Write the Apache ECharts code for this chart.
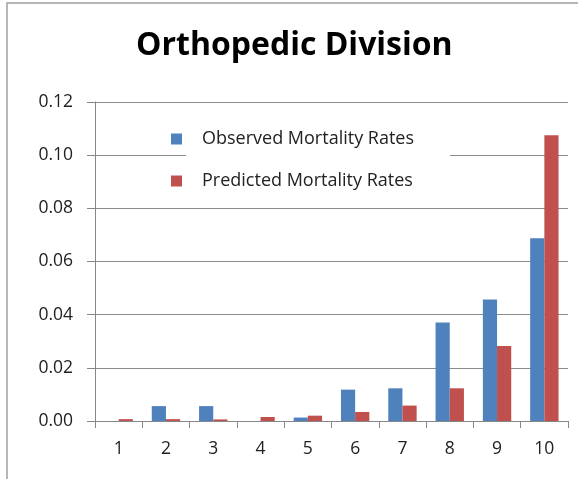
<!DOCTYPE html>
<html>
<head>
<meta charset="utf-8">
<script src="https://cdn.jsdelivr.net/npm/echarts@6/dist/echarts.min.js"></script>
<style>
  html, body { margin: 0; padding: 0; background: #fff; }
  #chart { width: 578px; height: 479px; }
</style>
</head>
<body>
<div id="chart"></div>
<script>
// deciles 1..10
const categories = ["1", "2", "3", "4", "5", "6", "7", "8", "9", "10"];
const observed = [0, 0.0056, 0.0056, 0, 0.0013, 0.0118, 0.0123, 0.0371, 0.0457, 0.0687];
const predicted = [0.0007, 0.0007, 0.0006, 0.0015, 0.002, 0.0034, 0.0058, 0.0123, 0.0282, 0.1075];

const font = "'Open Sans', sans-serif";
const chart = echarts.init(document.getElementById("chart"));

chart.setOption({
  animation: false,
  title: {
    text: "Orthopedic Division",
    left: 131,
    top: 25,
    textStyle: { fontFamily: font, fontSize: 32, fontWeight: "bold", color: "#000" },
  },
  legend: {
    orient: "vertical",
    left: 166,
    top: 125,
    itemWidth: 11,
    itemHeight: 11,
    itemGap: 24,
    icon: "rect",
    z: 10,
    textStyle: { fontFamily: font, fontSize: 18, color: "#222", padding: [0, 0, 0, 15] },
  },
  graphic: [
    {
      // white box behind the legend, hides part of the grid line
      type: "rect",
      z: 5,
      shape: { x: 186, y: 122, width: 264, height: 66 },
      style: { fill: "#fff" },
    },
    {
      type: "polyline",
      shape: { points: [[7, 479], [7, 3], [578, 3]] },
      style: { stroke: "#a0a0a0", lineWidth: 1.5, fill: null },
    },
  ],
  grid: { left: 95, right: 10, top: 102, bottom: 58 },
  xAxis: {
    type: "category",
    data: categories,
    axisLine: { lineStyle: { color: "#868686" } },
    axisTick: { show: true, length: 7, lineStyle: { color: "#868686" } },
    axisLabel: { fontFamily: font, fontSize: 17.5, color: "#222", margin: 19 },
  },
  yAxis: {
    type: "value",
    min: 0,
    max: 0.12,
    interval: 0.02,
    axisLine: { show: true, lineStyle: { color: "#868686" } },
    axisTick: { show: true, length: 8, lineStyle: { color: "#868686" } },
    splitLine: { lineStyle: { color: "#8c8c8c" } },
    axisLabel: {
      fontFamily: font,
      fontSize: 17.5,
      color: "#222",
      margin: 22,
      formatter: (v) => v.toFixed(2),
    },
  },
  series: [
    {
      name: "Observed Mortality Rates",
      type: "bar",
      data: observed,
      barGap: "0%",
      barCategoryGap: "40%",
      itemStyle: { color: "#4F81BD" },
    },
    {
      name: "Predicted Mortality Rates",
      type: "bar",
      data: predicted,
      itemStyle: { color: "#C0504D" },
    },
  ],
});
</script>
</body>
</html>
